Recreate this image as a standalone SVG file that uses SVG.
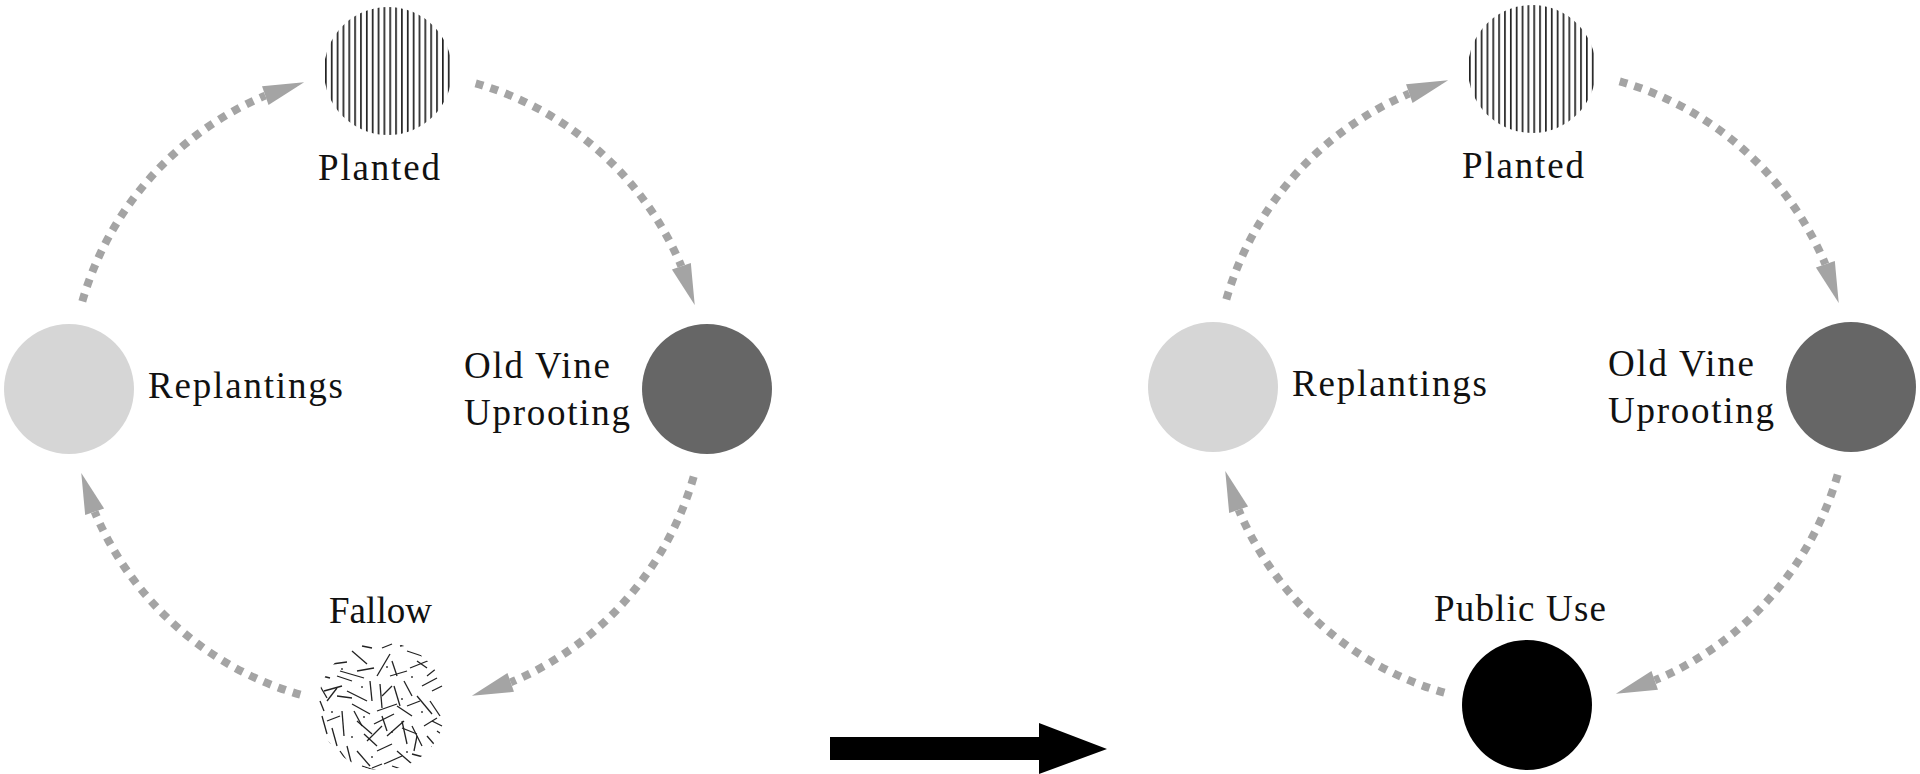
<svg xmlns="http://www.w3.org/2000/svg" xmlns:xlink="http://www.w3.org/1999/xlink" width="1920" height="774" viewBox="0 0 1920 774">
<style>
  .lbl { font-family: "Liberation Serif", "Times New Roman", serif; font-size: 37px; fill: #111; }
  .arc { fill: none; stroke: #a4a4a4; stroke-width: 8; stroke-dasharray: 8 7.5; }
  .head { fill: #a4a4a4; }
  .tex line { stroke: #222; stroke-width: 1.3; stroke-linecap: butt; }
</style>
<defs>
  <pattern id="stripes" patternUnits="userSpaceOnUse" x="325" y="0" width="5.85" height="10">
    <rect x="0" y="0" width="1.7" height="10" fill="#222"/>
  </pattern>
  <clipPath id="fallowClip"><circle cx="0" cy="0" r="64"/></clipPath>
  <g id="fallowTex" class="tex" clip-path="url(#fallowClip)">
    <line x1="-50" y1="-42" x2="-35" y2="-44"/>
    <line x1="-42" y1="-35" x2="-18" y2="-28"/>
    <line x1="-30" y1="-55" x2="-15" y2="-42"/>
    <line x1="-5" y1="-30" x2="8" y2="-52"/>
    <line x1="10" y1="-45" x2="15" y2="-30"/>
    <line x1="25" y1="-55" x2="40" y2="-50"/>
    <line x1="28" y1="-38" x2="48" y2="-46"/>
    <line x1="45" y1="-30" x2="55" y2="-38"/>
    <line x1="40" y1="-20" x2="55" y2="-28"/>
    <line x1="-58" y1="-15" x2="-40" y2="-20"/>
    <line x1="-55" y1="-5" x2="-45" y2="-18"/>
    <line x1="-35" y1="-15" x2="-15" y2="-5"/>
    <line x1="-30" y1="-2" x2="-12" y2="8"/>
    <line x1="-12" y1="-25" x2="-10" y2="-5"/>
    <line x1="-2" y1="-22" x2="0" y2="2"/>
    <line x1="12" y1="-20" x2="18" y2="0"/>
    <line x1="22" y1="-25" x2="30" y2="-10"/>
    <line x1="35" y1="-10" x2="50" y2="8"/>
    <line x1="48" y1="-5" x2="58" y2="10"/>
    <line x1="-60" y1="10" x2="-55" y2="28"/>
    <line x1="-50" y1="22" x2="-45" y2="40"/>
    <line x1="-40" y1="5" x2="-38" y2="30"/>
    <line x1="-25" y1="15" x2="-10" y2="28"/>
    <line x1="-15" y1="35" x2="0" y2="20"/>
    <line x1="-5" y1="5" x2="15" y2="-2"/>
    <line x1="-8" y1="18" x2="12" y2="8"/>
    <line x1="5" y1="30" x2="22" y2="15"/>
    <line x1="20" y1="15" x2="25" y2="38"/>
    <line x1="30" y1="20" x2="40" y2="40"/>
    <line x1="42" y1="20" x2="55" y2="12"/>
    <line x1="45" y1="30" x2="58" y2="45"/>
    <line x1="-55" y1="40" x2="-48" y2="55"/>
    <line x1="-35" y1="40" x2="-30" y2="60"/>
    <line x1="-25" y1="45" x2="-12" y2="60"/>
    <line x1="-5" y1="45" x2="10" y2="38"/>
    <line x1="2" y1="58" x2="20" y2="50"/>
    <line x1="15" y1="45" x2="30" y2="58"/>
    <line x1="30" y1="48" x2="45" y2="52"/>
    <line x1="-20" y1="60" x2="-5" y2="65"/>
    <line x1="10" y1="60" x2="25" y2="65"/>
    <line x1="-45" y1="-30" x2="-30" y2="-25"/>
    <line x1="0" y1="-58" x2="10" y2="-62"/>
    <line x1="50" y1="-15" x2="60" y2="-20"/>
    <line x1="-60" y1="-30" x2="-52" y2="-28"/>
    <line x1="55" y1="25" x2="62" y2="30"/>
    <line x1="-62" y1="-5" x2="-58" y2="5"/>
    <line x1="-48" y1="-50" x2="-40" y2="-55"/>
    <line x1="-20" y1="-60" x2="-10" y2="-58"/>
    <line x1="18" y1="-60" x2="30" y2="-62"/>
    <line x1="35" y1="-45" x2="45" y2="-38"/>
    <line x1="55" y1="-45" x2="58" y2="-35"/>
    <line x1="-45" y1="-10" x2="-30" y2="-8"/>
    <line x1="-25" y1="-35" x2="-8" y2="-38"/>
    <line x1="0" y1="-10" x2="10" y2="-20"/>
    <line x1="25" y1="0" x2="38" y2="-5"/>
    <line x1="-55" y1="15" x2="-42" y2="10"/>
    <line x1="-28" y1="5" x2="-20" y2="20"/>
    <line x1="0" y1="10" x2="5" y2="25"/>
    <line x1="15" y1="0" x2="30" y2="10"/>
    <line x1="50" y1="15" x2="60" y2="20"/>
    <line x1="-42" y1="45" x2="-35" y2="55"/>
    <line x1="-18" y1="28" x2="-5" y2="40"/>
    <line x1="35" y1="30" x2="32" y2="45"/>
    <line x1="-60" y1="30" x2="-52" y2="38"/>
    <line x1="40" y1="55" x2="52" y2="50"/>
    <line x1="-10" y1="62" x2="0" y2="58"/>
    <line x1="20" y1="22" x2="35" y2="28"/>
    <line x1="-62" y1="-20" x2="-55" y2="-8"/>
    <line x1="8" y1="-30" x2="25" y2="-35"/>
    <line x1="-40" y1="-38" x2="-40" y2="-36"/>
    <line x1="-20" y1="-20" x2="-20" y2="-18"/>
    <line x1="5" y1="-40" x2="5" y2="-38"/>
    <line x1="30" y1="-30" x2="30" y2="-28"/>
    <line x1="-50" y1="5" x2="-50" y2="7"/>
    <line x1="-18" y1="10" x2="-18" y2="12"/>
    <line x1="10" y1="25" x2="10" y2="27"/>
    <line x1="40" y1="5" x2="40" y2="7"/>
    <line x1="-30" y1="30" x2="-30" y2="32"/>
    <line x1="25" y1="45" x2="25" y2="47"/>
    <line x1="-10" y1="50" x2="-10" y2="52"/>
    <line x1="50" y1="40" x2="50" y2="42"/>
    <line x1="20" y1="-8" x2="20" y2="-6"/>
    <line x1="-45" y1="50" x2="-45" y2="52"/>
  </g>
  <g id="arcUnit">
    <path class="arc" d="M82.32,301.35 A318,318 0 0 1 265.28,95.63"/>
    <polygon class="head" points="304.09,82.27 268.54,105.09 262.03,86.18"/>
  </g>
</defs>

<g id="connectors">
  <g id="left-connectors">
    <use xlink:href="#arcUnit"/>
    <use xlink:href="#arcUnit" transform="rotate(90 388 389)"/>
    <use xlink:href="#arcUnit" transform="rotate(180 388 389)"/>
    <use xlink:href="#arcUnit" transform="rotate(270 388 389)"/>
  </g>
  <g id="right-connectors" transform="translate(1144,-2)">
    <use xlink:href="#arcUnit"/>
    <use xlink:href="#arcUnit" transform="rotate(90 388 389)"/>
    <use xlink:href="#arcUnit" transform="rotate(180 388 389)"/>
    <use xlink:href="#arcUnit" transform="rotate(270 388 389)"/>
  </g>
  <polygon id="transition-arrow" points="830,737 1039,737 1039,723 1107,749 1039,774 1039,760 830,760" fill="#000"/>
</g>

<g id="left-planted">
  <circle cx="388" cy="71" r="64" fill="url(#stripes)"/>
  <text class="lbl" x="318" y="180" textLength="122" lengthAdjust="spacing">Planted</text>
</g>
<g id="left-replantings">
  <circle cx="69" cy="389" r="65" fill="#d6d6d6"/>
  <text class="lbl" x="148" y="398" textLength="195" lengthAdjust="spacing">Replantings</text>
</g>
<g id="left-oldvine">
  <circle cx="707" cy="389" r="65" fill="#666666"/>
  <text class="lbl" x="464" y="378" textLength="146" lengthAdjust="spacing">Old Vine</text>
  <text class="lbl" x="464" y="425" textLength="166" lengthAdjust="spacing">Uprooting</text>
</g>
<g id="left-fallow">
  <use xlink:href="#fallowTex" transform="translate(382,706)"/>
  <text class="lbl" x="329" y="623" textLength="103" lengthAdjust="spacing">Fallow</text>
</g>

<g id="right-planted" transform="translate(1144,-2)">
  <circle cx="388" cy="71" r="64" fill="url(#stripes)"/>
  <text class="lbl" x="318" y="180" textLength="122" lengthAdjust="spacing">Planted</text>
</g>
<g id="right-replantings" transform="translate(1144,-2)">
  <circle cx="69" cy="389" r="65" fill="#d6d6d6"/>
  <text class="lbl" x="148" y="398" textLength="195" lengthAdjust="spacing">Replantings</text>
</g>
<g id="right-oldvine" transform="translate(1144,-2)">
  <circle cx="707" cy="389" r="65" fill="#666666"/>
  <text class="lbl" x="464" y="378" textLength="146" lengthAdjust="spacing">Old Vine</text>
  <text class="lbl" x="464" y="425" textLength="166" lengthAdjust="spacing">Uprooting</text>
</g>
<g id="right-publicuse">
  <circle cx="1527" cy="705" r="65" fill="#000"/>
  <text class="lbl" x="1434" y="621" textLength="172" lengthAdjust="spacing">Public Use</text>
</g>
</svg>
